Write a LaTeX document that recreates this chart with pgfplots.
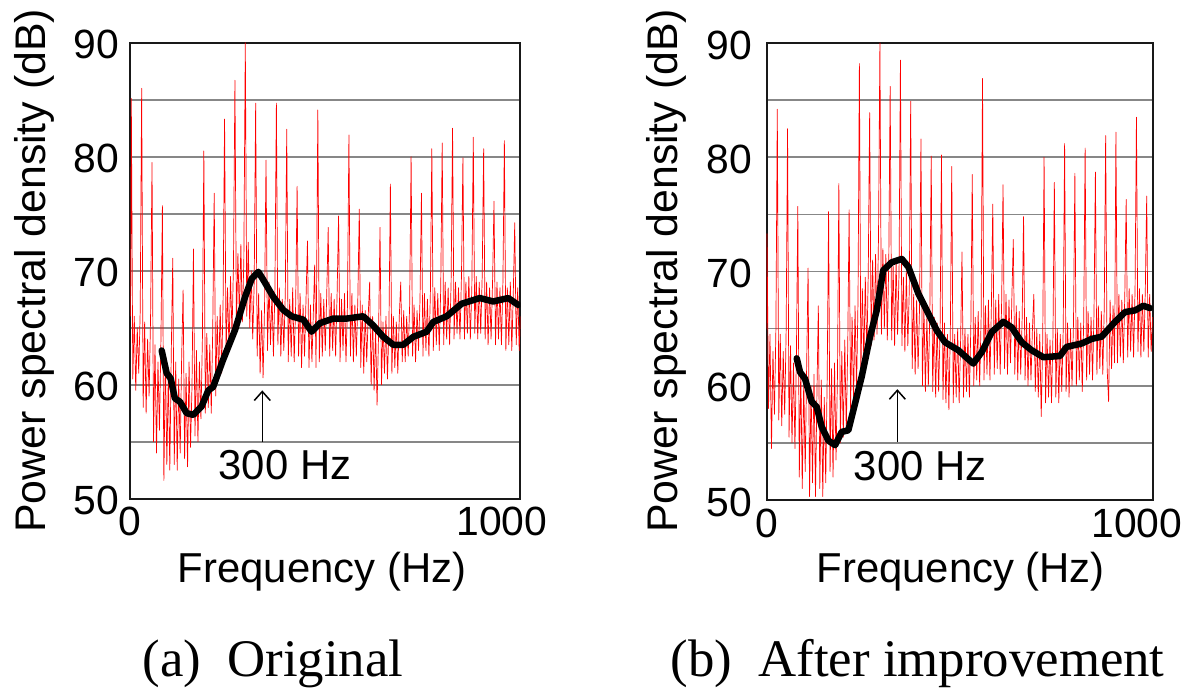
\documentclass[border=0pt]{standalone}
\usepackage{pgfplots}
\usepackage{pgfplotstable}
\pgfplotsset{compat=1.18}
\usetikzlibrary{arrows.meta}
\usepackage{fontspec}
\setmainfont{Liberation Sans}
\newfontfamily\capfont{Liberation Serif}

\pgfplotstableread{
x y
0.5 66
1.5 72
2.7 85.1
6.7 60.5
10.7 66
14.7 59.5
18.7 65
22.7 61
26.7 66.5
30.6 86.0
34.6 58
38.6 65.5
42.6 57.5
46.6 64
50.6 59
54.6 66
58.5 79.5
62.5 55
66.5 63.5
70.5 54
74.5 62
78.5 56
82.5 64
86.4 75.7
90.4 51.6
94.4 62.5
98.4 53
102.4 61
106.4 52.5
110.4 63
114.3 71.1
118.3 53
122.3 62
126.3 52.5
130.3 60.5
134.3 54
138.3 62.5
142.2 68.3
146.2 53.5
150.2 61
154.2 52.8
158.2 62
162.2 54.5
166.2 60
170.1 71.9
174.1 55.5
178.1 63
182.1 55
186.1 62
190.1 57
194.1 64
198.0 80.5
202 57.5
206 64.5
210 58
214 63.5
218 57.5
222 65
225.9 76.8
229.9 59
233.9 66
237.9 60.5
241.9 67
245.9 61
249.9 67.5
253.8 83.3
257.8 62.5
261.8 68.5
265.8 63
269.8 69.5
273.8 64.5
277.8 70.5
281.7 86.7
285.7 65
289.7 71.5
293.7 66
297.7 72.3
301.7 65.5
305.7 71
309.6 90
313.6 66
317.6 72.5
321.6 65
325.6 70
329.6 64
333.6 69
337.5 84.7
341.5 62.5
345.5 68
349.5 61
353.5 66.5
357.5 60.6
361.5 67
365.4 79.7
369.4 63
373.4 69
377.4 63.5
381.4 68
385.4 62.5
389.4 68.5
393.3 84.7
397.3 63.5
401.3 68.5
405.3 62.5
409.3 67.5
413.3 63
417.3 68
421.2 82.4
425.2 62
429.2 67.5
433.2 62.5
437.2 68.5
441.2 62
445.2 67
449.1 77.4
453.1 62.5
457.1 68
461.1 61.5
465.1 67
469.1 62.5
473.1 67.5
477.0 72.6
481 61.5
485 67
489 62
493 66.5
496.3 70.5
500 61.5
504.9 84.1
508.9 62
512.9 68
516.9 62.5
520.9 67.5
524.9 63
528.9 68
532.8 73.8
536.8 62.5
540.8 68
544.8 63
548.8 67.5
552.8 62.5
556.8 68
560.7 74.8
564.7 62
568.7 67.5
572.7 63
576.7 68
580.7 62
584.7 67
588.6 81.9
592.6 62.5
596.6 68
600.6 62
604.6 67
608.6 62.5
612.6 67.5
616.5 75.4
620.5 61.5
624.5 67
628.5 61
632.5 66.5
636.5 62
640.5 66
644.4 69
648.4 60
652.4 66
656.4 59.5
660.4 65
664.4 58.2
668.4 64.5
672.3 73.8
676.3 60
680.3 65.5
684.3 61
688.3 66
692.3 60.5
696.3 65
700.2 77.6
704.2 61
708.2 66
712.2 61.5
716.2 65.5
720.2 61
724.2 66
728.1 69
732.1 62
736.1 66.5
740.1 62
744.1 66
748.1 62.5
752.1 67
756.0 80.0
760 62.5
764 67
768 62
772 66.5
776 63
780 67.5
783.9 76.8
787.9 62.5
791.9 68
795.9 63
799.9 67.5
803.9 62.5
807.9 68
811.8 80.7
815.8 63
819.8 68.5
823.8 63.5
827.8 68
831.8 63
835.8 68.5
839.7 81.2
843.7 63.5
847.7 69
851.7 64
855.7 68.5
859.7 63.5
863.7 69
867.6 82.5
871.6 64
875.6 69
879.6 64.5
883.6 68.5
887.6 64
891.6 69.5
895.5 79.9
899.5 64
903.5 69
907.5 64.5
911.5 69.5
915.5 64
919.5 68.5
923.4 81.7
927.4 64.5
931.4 69.5
935.4 64
939.4 69
943.4 64.5
947.4 69.5
951.3 80.7
955.3 64
959.3 69
963.3 63.5
967.3 68.5
971.3 64
975.3 69
979.2 76.1
983.2 63.5
987.2 69
991.2 64
995.2 68.5
999.2 63.5
1003.2 69
1007.1 81.4
1011.1 63
1015.1 68.5
1019.1 63.5
1023.1 69
1027.1 63
1031.1 68
1035.0 74.2
1039 63.5
1043 68.5
1047 63
1050 66
}\redA

\pgfplotstableread{
x y
84.5 63.0
98 61.0
108.7 60.55
120 58.8
133.8 58.5
151.8 57.5
169.6 57.35
192 58.1
210 59.5
223 59.8
250 62.2
282 64.8
309 67.7
327 69.3
344.7 69.9
358 69.2
385 67.7
412 66.55
434.5 66.0
466 65.7
488 64.65
510.7 65.4
546.5 65.8
582.5 65.8
627 66.0
654 65.2
681 64.2
708 63.5
735 63.5
762 64.2
798 64.65
815.6 65.5
851.7 66.0
892 67.1
941 67.6
977 67.3
1017.6 67.6
1044 67.0
}\blackA

\pgfplotstableread{
x y
0.3 65
1.4 73.3
5.4 58
9.4 64.5
13.4 54.5
17.4 63
21.4 57.5
25.4 65
29.1 84.2
33.1 57
37.1 64.5
41.1 56.5
45.1 63
49.1 57.5
53.1 65
56.8 82.5
60.8 55.5
64.8 63.5
68.8 55
72.8 62
76.8 54.5
80.8 63
84.5 75.7
88.5 52
92.5 61.5
96.5 51
100.5 60.5
104.5 52.5
108.5 62
112.2 70.3
116.2 50.3
120.2 60
124.2 51.5
128.2 61
132.2 50.3
136.2 59.5
139.9 67
143.9 51
147.9 60.5
151.9 50.3
155.9 59
159.9 51.5
163.9 61
167.6 75.25
171.6 52.5
175.6 61.5
179.6 52
183.6 62
187.6 53.5
191.6 61
195.3 77.7
199.3 55
203.3 63
207.3 55.5
211.3 64
215.3 56
219.3 63.5
223.0 75.4
227 58
231 66
235 58.5
239 67
243 59.5
247 67.5
250.7 88.2
254.7 61
258.7 68.5
262.7 62
266.7 69.5
270.7 62.5
274.7 70
278.4 83.9
282.4 63.5
286.4 71
290.4 64
294.4 71.5
298.4 64.5
302.4 73.3
306.1 90
310.1 64.5
314.1 72
318.1 65
322.1 71.5
326.1 64
330.1 71
333.8 86.2
337.8 64
341.8 70.5
345.8 63.5
349.8 71
353.8 64.5
357.8 70
361.5 88.5
365.5 63.5
369.5 69.5
373.5 63
377.5 70
381.5 63.5
385.5 68.5
389.2 84.9
393.2 61.5
397.2 68
401.2 61
405.2 67.5
409.2 61.5
413.2 67
416.9 81.6
420.9 60
424.9 67
428.9 59.5
432.9 66
436.9 60
440.9 66.5
444.6 80.1
448.6 59.5
452.6 66
456.6 59
460.6 65.5
464.6 59.5
468.6 65
472.3 80.2
476.3 58.8
480.3 65.5
484.3 58.5
488.3 64.5
492.3 57.9
496.3 65
500.0 79.2
504 58.5
508 64.5
512 59
516 65
520 58.5
524 64
527.7 71.7
531.7 59
535.7 65
539.7 59.5
543.7 64.5
547.7 59
551.7 65.5
555.4 78.5
559.4 60
563.4 66
567.4 60.5
571.4 66.5
575.4 60
579.4 66
583.1 86.9
587.1 60.5
591.1 67
595.1 61
599.1 67.5
603.1 60.5
607.1 67
610.8 75.9
614.8 61
618.8 67.5
622.8 61.5
626.8 68
630.8 61
634.8 67.5
638.5 77.6
642.5 61.5
646.5 68
650.5 61
654.5 67.5
658.5 62
662.5 68
666.2 72.8
670.2 61
674.2 67
678.2 60.5
682.2 66.5
686.2 61
690.2 66
693.9 74.8
697.9 60.5
701.9 66
705.9 60
709.9 65.5
713.9 60.5
717.9 65
721.6 68
725.6 59.5
729.6 65
733.6 59
737.6 64.5
741.6 57.3
745.6 64
749.3 80.0
753.3 58.5
757.3 64.5
761.3 59
765.3 64
769.3 58.5
773.3 64.5
777.0 77.8
781 59
785 65
789 58.5
793 64.5
797 59.5
801 65
804.7 81.2
808.7 59.5
812.7 65.5
816.7 59
820.7 65
824.7 60
828.7 65.5
832.4 78.6
836.4 60
840.4 66
844.4 60.5
848.4 65.5
852.4 59.5
856.4 66
860.1 80.8
864.1 60.5
868.1 66.5
872.1 61
876.1 66
880.1 60.5
884.1 66.5
887.8 78.7
891.8 61
895.8 67
899.8 61.5
903.8 66.5
907.8 61
911.8 67
915.5 81.9
919.5 61.5
923.5 58.6
927.5 67.5
931.5 61.5
935.5 67
939.5 62
943.2 82.2
947.2 62
951.2 68
955.2 62.5
959.2 67.5
963.2 62
967.2 68
970.9 76.3
974.9 62.5
978.9 68.5
982.9 63
986.9 68
990.9 62.5
994.9 68.5
998.6 83.5
1002.6 63
1006.6 68.5
1010.6 62.5
1014.6 68
1018.6 63
1022.6 68.5
1026.3 76.6
1030.3 62.5
1034.3 68
1038.3 63
1042 66
}\redB

\pgfplotstableread{
x y
81.5 62.4
90.5 61.2
104 60.6
122 58.6
135.5 58.15
149 56.4
167 55.2
185 54.8
203 55.96
221 56.1
239 58.45
257 60.8
279.5 64.3
297.5 66.6
315 70.1
338 70.8
365 71.1
383 70.4
410 68.06
437 66.3
459.5 64.85
482 63.8
518 63.1
558 61.94
581 62.95
608 64.7
639 65.6
662 65.1
689 63.8
716 63.1
747 62.5
792 62.6
810 63.4
851 63.7
878 64.1
905 64.3
941 65.6
968 66.45
995 66.6
1017 67.0
1035 66.8
}\blackB

\pgfplotsset{
  psd/.style={
    scale only axis,
    anchor=south west,
    ymin=50, ymax=90,
    xmin=0,
    xtick={0,1000},
    xticklabels={0,1000},
    ytick={50,60,70,80,90},
    minor ytick={55,65,75,85},
    ymajorgrids, yminorgrids,
    major grid style={draw=black!47, line width=1.7bp},
    minor grid style={draw=black!47, line width=1.7bp},
    major tick length=0pt, minor tick length=0pt,
    axis line style={line width=2bp, black!90},
    /pgf/number format/assume math mode=true,
    tick label style={font=\fontsize{41}{41}\selectfont},
    xticklabel style={yshift=-5bp},
    label style={font=\fontsize{42}{42}\selectfont},
    xlabel={Frequency (Hz)},
    clip=true,
  }
}

\begin{document}
\begin{tikzpicture}[x=1bp,y=1bp]
\path[use as bounding box] (0,0) rectangle (1192,691);

\begin{axis}[psd, at={(130.3bp,192.3bp)}, width=390bp, height=456bp, xmax=1050,
  yticklabel style={xshift=-8bp, yshift=-2bp},
  xlabel style={at={(axis description cs:0.4915,-0.1838)}, anchor=base}]
\addplot[red, line width=0.7bp, line join=round] table {\redA};
\addplot[black, line width=6.5bp, line join=round, line cap=round] table {\blackA};
\draw[line width=1.5bp, -{Straight Barb[length=9bp,width=16bp,line width=1.5bp]}] (axis cs:355.3,55) -- (axis cs:355.3,59.5);
\node[anchor=base, font=\fontsize{42}{42}\selectfont] at (axis cs:416.5,51.64) {300 Hz};
\end{axis}

\begin{axis}[psd, at={(766.5bp,191bp)}, width=386bp, height=457bp, xmax=1042,
  yticklabel style={xshift=-11bp, yshift=-2bp},
  xlabel style={at={(axis description cs:0.503,-0.1815)}, anchor=base}]
\addplot[red, line width=0.7bp, line join=round] table {\redB};
\addplot[black, line width=6.5bp, line join=round, line cap=round] table {\blackB};
\draw[line width=1.5bp, -{Straight Barb[length=9bp,width=16bp,line width=1.5bp]}] (axis cs:353.2,55.05) -- (axis cs:353.2,59.7);
\node[anchor=base, font=\fontsize{42}{42}\selectfont] at (axis cs:414.5,51.74) {300 Hz};
\end{axis}

\node[rotate=90, anchor=center, font=\fontsize{43}{43}\selectfont] at (34,420.3) {Power spectral density (dB)};
\node[rotate=90, anchor=center, font=\fontsize{43}{43}\selectfont] at (666,420.3) {Power spectral density (dB)};

\node[anchor=base, font=\capfont\fontsize{53}{53}\selectfont] at (273,14) {(a)\ \ Original};
\node[anchor=base, font=\capfont\fontsize{53}{53}\selectfont] at (917.5,14) {(b)\ \ After improvement};
\end{tikzpicture}
\end{document}
